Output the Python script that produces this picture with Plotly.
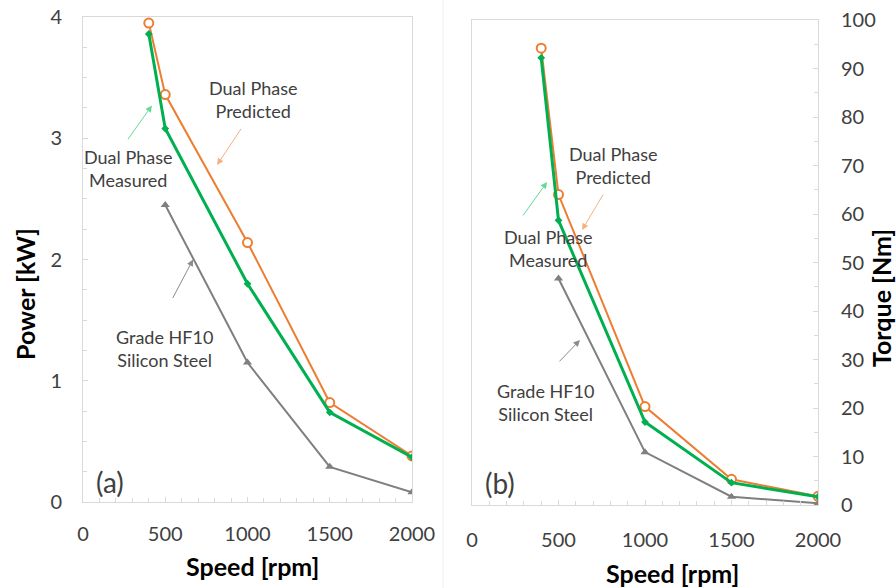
import plotly.graph_objects as go

speed = [400, 500, 1000, 1500, 2000]
speed_si = [500, 1000, 1500, 2000]

power_pred = [3.95, 3.36, 2.14, 0.82, 0.38]
power_meas = [3.86, 3.08, 1.80, 0.74, 0.37]
power_si = [2.45, 1.15, 0.29, 0.08]

torque_pred = [94.2, 64.0, 20.3, 5.3, 1.8]
torque_meas = [92.2, 58.7, 17.1, 4.6, 1.7]
torque_si = [46.7, 10.9, 1.7, 0.35]

x_ticks = [0, 500, 1000, 1500, 2000]
power_ticks = [0, 1, 2, 3, 4]
torque_ticks = [0, 10, 20, 30, 40, 50, 60, 70, 80, 90, 100]

ORANGE = "#ED7D31"
GREEN = "#00B050"
GREY = "#7F7F7F"
FONT = "Lato"
TXT = "#404040"

W, H = 896, 588

fig = go.Figure()

def add_set(xa, ya, pred, meas, si):
    fig.add_trace(go.Scatter(x=speed_si, y=si, mode="lines+markers", xaxis=xa, yaxis=ya,
                             line=dict(color=GREY, width=2),
                             marker=dict(symbol="triangle-up", size=8, color=GREY),
                             showlegend=False))
    fig.add_trace(go.Scatter(x=speed, y=pred, mode="lines+markers", xaxis=xa, yaxis=ya,
                             line=dict(color=ORANGE, width=2),
                             marker=dict(symbol="circle", size=9, color="white",
                                         line=dict(color=ORANGE, width=2)),
                             showlegend=False))
    fig.add_trace(go.Scatter(x=speed, y=meas, mode="lines+markers", xaxis=xa, yaxis=ya,
                             line=dict(color=GREEN, width=3),
                             marker=dict(symbol="diamond", size=6, color=GREEN),
                             showlegend=False))

add_set("x", "y", power_pred, power_meas, power_si)
add_set("x2", "y2", torque_pred, torque_meas, torque_si)

axis_common = dict(showgrid=False, zeroline=False, showline=True, mirror=True,
                   linecolor="#D9D9D9", linewidth=1, ticks="inside", ticklen=5,
                   tickcolor="#D9D9D9", automargin=False,
                   tickfont=dict(family=FONT, size=20, color=TXT))

fig.update_layout(
    width=W, height=H, margin=dict(l=0, r=0, t=0, b=0, pad=0, autoexpand=False),
    paper_bgcolor="white", plot_bgcolor="white",
    xaxis=dict(domain=[83/W, 412/W], range=[0, 2000], tickvals=x_ticks,
               anchor="y", ticklabelstandoff=14,
               minor=dict(ticks="inside", ticklen=4, tickcolor="#D9D9D9", dtick=100),
               **axis_common),
    yaxis=dict(domain=[1-502/H, 1-17/H], range=[0, 4], tickvals=power_ticks,
               anchor="x", ticklabelstandoff=16,
               minor=dict(ticks="inside", ticklen=4, tickcolor="#D9D9D9", dtick=0.25),
               **axis_common),
    xaxis2=dict(domain=[472/W, 818/W], range=[0, 2000], tickvals=x_ticks,
                anchor="y2", ticklabelstandoff=17,
                minor=dict(ticks="inside", ticklen=4, tickcolor="#D9D9D9", dtick=100),
                **axis_common),
    yaxis2=dict(domain=[1-505/H, 1-20/H], range=[0, 100], tickvals=torque_ticks,
                anchor="x2", side="right", ticklabelstandoff=18,
                minor=dict(ticks="inside", ticklen=4, tickcolor="#D9D9D9", dtick=5),
                **axis_common),
)

# faint separator between the two charts
fig.add_shape(type="line", xref="paper", yref="paper", x0=443/W, x1=443/W, y0=0, y1=1,
              line=dict(color="#F0F0F0", width=1))

def label(xr, yr, x, y, text, size=18, color=TXT):
    fig.add_annotation(xref=xr, yref=yr, x=x, y=y, text=text, showarrow=False,
                       font=dict(family=FONT, size=size, color=color),
                       xanchor="center", yanchor="middle", align="center")

def arrow(xr, yr, x, y, ax, ay, color):
    fig.add_annotation(xref=xr, yref=yr, axref=xr, ayref=yr, x=x, y=y, ax=ax, ay=ay,
                       text="", showarrow=True, arrowhead=2, arrowsize=1.3,
                       arrowwidth=1, arrowcolor=color)

# left panel annotations
label("x", "y", 1033, 3.32, "Dual Phase<br>Predicted")
arrow("x", "y", 815, 2.78, 967, 3.09, "#F4B183")
label("x", "y", 274, 2.75, "Dual Phase<br>Measured")
arrow("x", "y", 419, 3.27, 267, 2.98, "#66D99A")
label("x", "y", 498, 1.27, "Grade HF10<br>Silicon Steel")
arrow("x", "y", 669, 2.0, 541, 1.67, "#8C8C8C")
label("x", "y", 164, 0.165, "(a)", size=28)

# right panel annotations
label("x2", "y2", 815, 70.1, "Dual Phase<br>Predicted")
arrow("x2", "y2", 636, 56.7, 763, 64.3, "#F4B183")
label("x2", "y2", 439, 52.8, "Dual Phase<br>Measured")
arrow("x2", "y2", 434, 66.6, 289, 59.4, "#66D99A")
label("x2", "y2", 422, 21.2, "Grade HF10<br>Silicon Steel")
arrow("x2", "y2", 624, 34.0, 497, 29.3, "#8C8C8C")
label("x2", "y2", 162, 4.5, "(b)", size=28)

# axis titles
def title(x, y, text, angle=0):
    fig.add_annotation(xref="paper", yref="paper", x=x/W, y=1-y/H, text="<b>"+text+"</b>",
                       showarrow=False, textangle=angle,
                       font=dict(family=FONT, size=25, color="black"),
                       xanchor="center", yanchor="middle")

title(25, 294, "Power [kW]", -90)
title(881, 298, "Torque [Nm]", -90)
title(252, 566, "Speed [rpm]")
title(672, 573, "Speed [rpm]")

# remove the default page margin so the figure fills the window exactly
fig.write_html("out.html", config={"displayModeBar": False},
               post_script="document.body.style.margin='0';document.body.style.overflow='hidden';")
